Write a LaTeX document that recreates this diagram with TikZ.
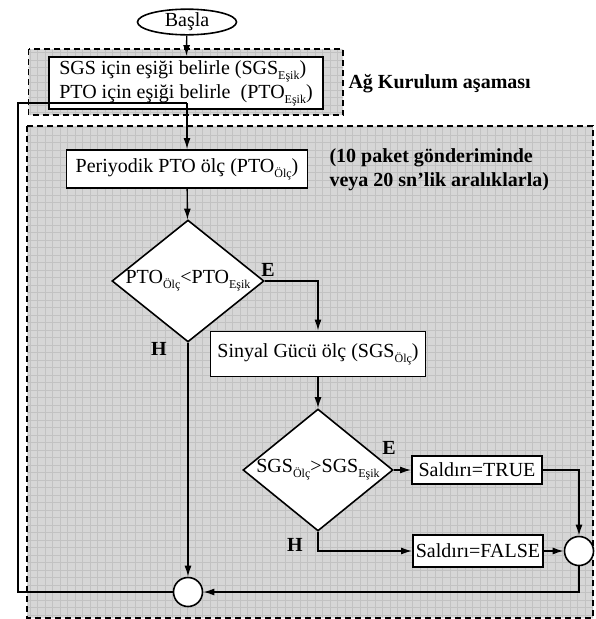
\documentclass[tikz,border=0pt]{standalone}
\usepackage{fontspec}
\setmainfont{Liberation Serif}
\usetikzlibrary{shapes.geometric,arrows.meta}
\newcommand{\subt}[1]{\raisebox{-5pt}{\fontsize{12}{12}\selectfont #1}}

\begin{document}
\begin{tikzpicture}[x=1pt,y=-1pt,
  font=\fontsize{20}{24}\selectfont,
  box/.style={draw,fill=white,line width=1.8pt,inner sep=2pt},
  decision/.style={diamond,draw,fill=white,line width=1.6pt,inner sep=0pt},
  joint/.style={circle,draw,fill=white,line width=1.6pt,minimum size=29pt,inner sep=0pt},
  zone/.style={draw,line width=1.5pt,dash pattern=on 6pt off 4pt},
  flow/.style={line width=1.4pt,-{Latex[length=11pt,width=7pt]}},
  link/.style={line width=1.4pt},
  tag/.style={font=\fontsize{20}{24}\selectfont\bfseries}]

\useasboundingbox (0,0) rectangle (595,619);

\fill[black!16] (28.5,49) rectangle (343,115) (27,126) rectangle (593,618);
\begin{scope}
  \clip (28.5,49) rectangle (343,115) (27,126) rectangle (593,618);
  \draw[black!24,line width=0.5pt,step=7.5pt] (20,40) grid (600,625);
\end{scope}
\draw[zone] (28.5,49) rectangle (343,115);
\draw[zone] (27,126) rectangle (593,618);

\node[ellipse,draw,fill=white,line width=1.6pt,minimum width=99pt,minimum height=25pt,inner sep=0pt] (basla) at (187,22) {Başla};
\node[box,minimum width=274pt,minimum height=52pt,align=left] (init) at (186,83) {SGS için eşiği belirle (SGS\subt{Eşik})\\PTO için eşiği belirle\ \ (PTO\subt{Eşik})};
\node[tag,anchor=west] (kurulum) at (345,84) {Ağ Kurulum aşaması};

\node[box,minimum width=241pt,minimum height=38pt] (perio) at (187,169) {Periyodik PTO ölç (PTO\subt{Ölç})};
\node[tag,anchor=west,align=left] (periyot) at (326,170) {(10 paket gönderiminde\\veya 20 sn’lik aralıklarla)};

\node[decision,minimum width=152pt,minimum height=122pt] (pto) at (188,281) {\makebox[0pt]{PTO\subt{Ölç}<PTO\subt{Eşik}}};
\node[box,minimum width=215pt,minimum height=45pt] (sgs) at (318,354) {Sinyal Gücü ölç (SGS\subt{Ölç})};
\node[decision,minimum width=150pt,minimum height=122pt] (sgsdec) at (318,470) {\makebox[0pt]{SGS\subt{Ölç}>SGS\subt{Eşik}}};
\node[box,minimum width=130pt,minimum height=28pt] (saldiriT) at (477,470) {Saldırı=TRUE};
\node[box,minimum width=130pt,minimum height=32pt] (saldiriF) at (478,551) {Saldırı=FALSE};

\node[joint] (birlesR) at (579,551) {};
\node[joint] (birlesB) at (188,592) {};

\node[tag] (e1) at (268,270) {E};
\node[tag] (h1) at (159,349) {H};
\node[tag] (e2) at (389,448) {E};
\node[tag] (h2) at (295,545) {H};

\coordinate (kose) at (18,103);
\coordinate (giris) at (187,103);

\draw[flow] (basla) -- (init);
\draw[link] (birlesB.west) -| (kose) -- (giris);
\draw[flow] (giris) -- (perio.north);
\draw[flow] (perio) -- (pto);
\draw[flow] (pto.east) -| (sgs.north);
\draw[flow] (pto.south) -- (birlesB);
\draw[flow] (sgs) -- (sgsdec);
\draw[flow] (sgsdec.east) -- (saldiriT);
\draw[flow] (sgsdec.south) |- (saldiriF);
\draw[flow] (saldiriT) -| (birlesR);
\draw[flow] (saldiriF) -- (birlesR);
\draw[flow] (birlesR) |- (birlesB);
\end{tikzpicture}
\end{document}
